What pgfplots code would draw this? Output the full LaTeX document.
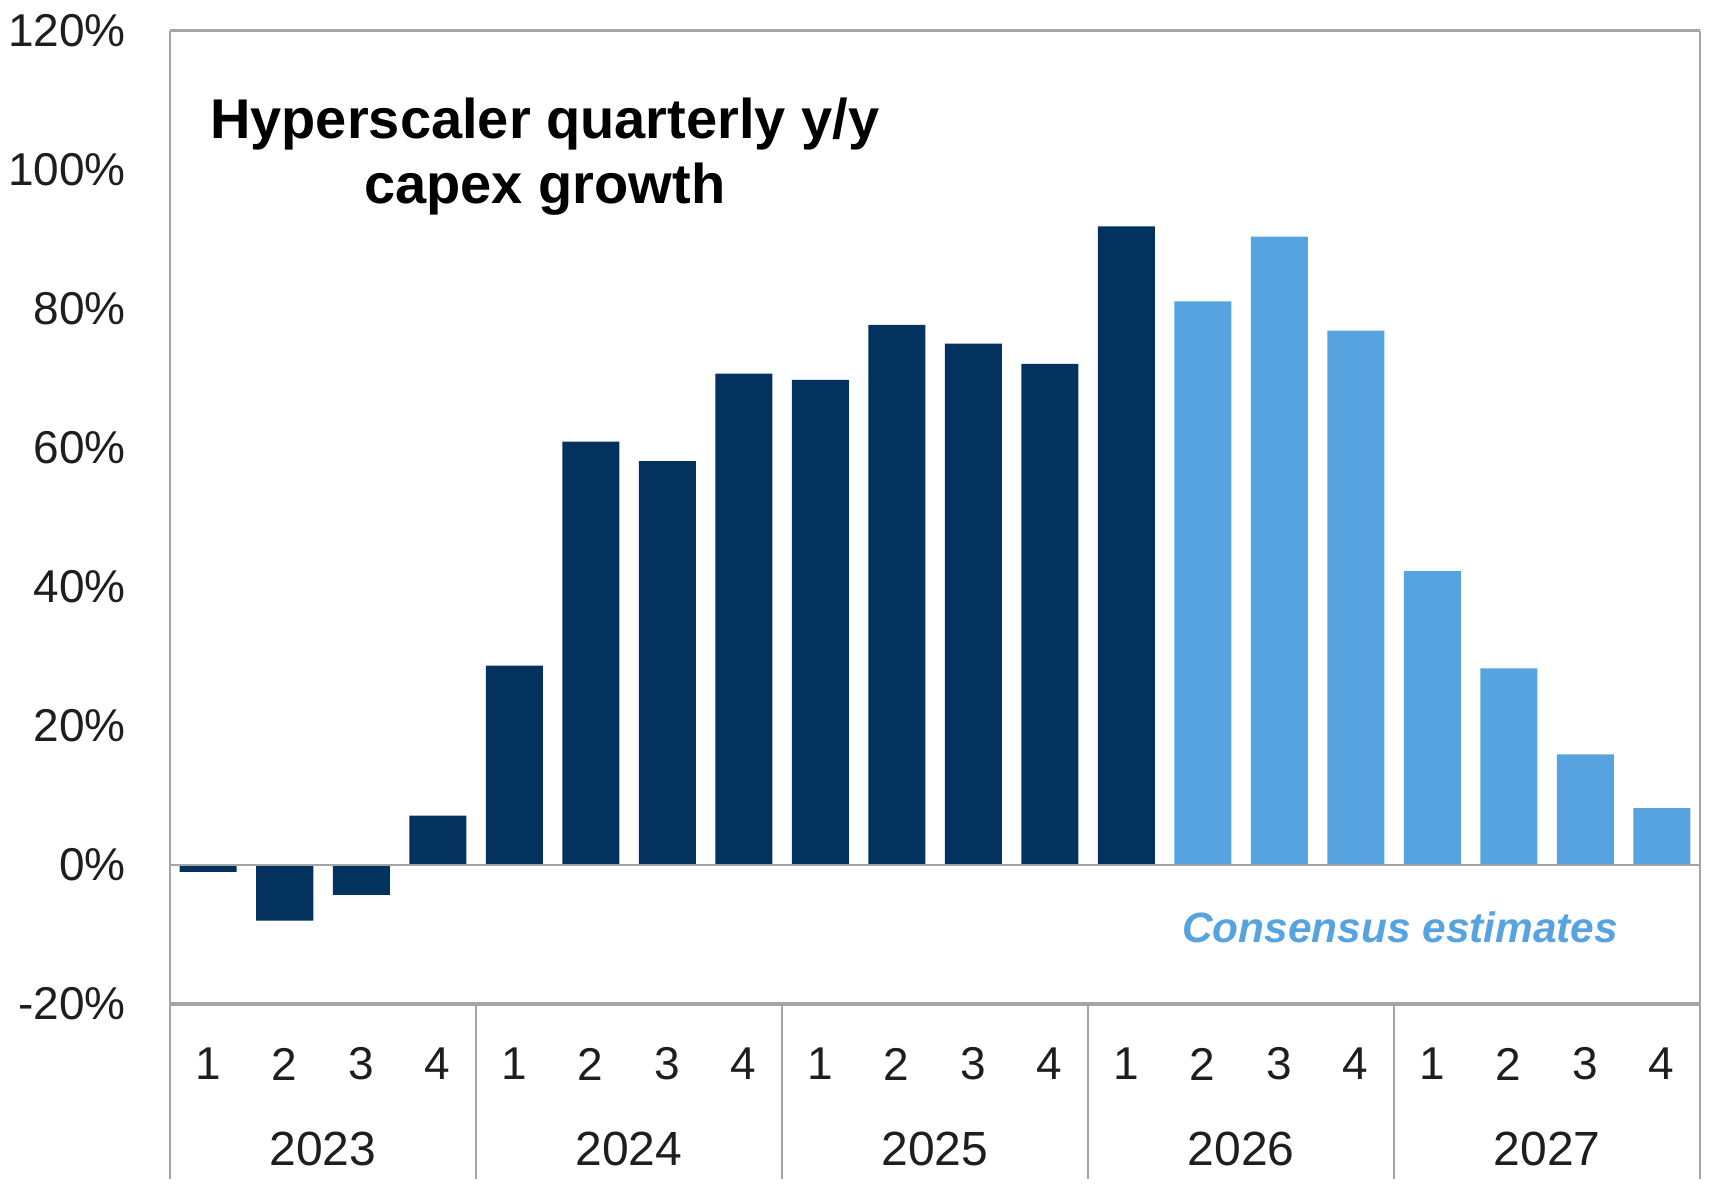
\documentclass[border=0pt]{standalone}
\usepackage{pgfplots}
\pgfplotsset{compat=1.18}
\usepackage{fontspec}
\setmainfont{Liberation Sans}
\definecolor{navy}{RGB}{3,50,94}
\definecolor{lblue}{RGB}{86,163,223}
\definecolor{frame}{RGB}{165,165,165}
\definecolor{txt}{RGB}{30,30,30}
\begin{document}
\begin{tikzpicture}
\begin{axis}[
  name=ax,
  scale only axis,
  width=382.5pt, height=243.25pt,
  xmin=-0.5, xmax=19.5, ymin=-20, ymax=120,
  axis line style={draw=none},
  major tick length=0pt,
  ytick={-20,0,20,40,60,80,100,120},
  yticklabel={\pgfmathprintnumber{\tick}\%},
  yticklabel style={font=\fontsize{11.5}{13}\selectfont, text=txt, xshift=-7.5pt},
  xtick={0,...,19},
  xticklabels={1,2,3,4,1,2,3,4,1,2,3,4,1,2,3,4,1,2,3,4},
  xticklabel style={font=\fontsize{11.5}{13}\selectfont, text=txt, anchor=center, yshift=-15pt},
  /pgf/number format/assume math mode=true,
  clip=false,
]
% frame lines
\draw[frame, line width=0.75pt] (axis cs:-0.5,120) -- (axis cs:19.5,120);
\draw[frame, line width=0.5pt] (axis cs:-0.5,120) -- (axis cs:-0.5,-20) -- ++(0pt,-43.75pt);
\draw[frame, line width=0.5pt] (axis cs:19.5,120) -- (axis cs:19.5,-20) -- ++(0pt,-43.75pt);
\pgfplotsinvokeforeach{3.5,7.5,11.5,15.5}{
  \draw[frame, line width=0.4pt] (axis cs:#1,-20) -- ++(0pt,-43.75pt);
}
% bars
\addplot[ybar, bar width=14.25pt, bar shift=0pt, fill=navy, draw=none] coordinates {
 (0,-1) (1,-8) (2,-4.3) (3,7.1) (4,28.7) (5,60.9) (6,58.1) (7,70.7)
 (8,69.8) (9,77.7) (10,75.0) (11,72.1) (12,91.9)
};
\addplot[ybar, bar width=14.25pt, bar shift=0pt, fill=lblue, draw=none] coordinates {
 (13,81.1) (14,90.4) (15,76.9) (16,42.3) (17,28.3) (18,15.9) (19,8.2)
};
\draw[frame, line width=0.5pt] (axis cs:-0.5,0) -- (axis cs:19.5,0);
\draw[frame, line width=1pt] (axis cs:-0.5,-20) -- (axis cs:19.5,-20);
% year labels
\node[font=\fontsize{12}{14}\selectfont, text=txt] at ([yshift=-36.25pt]axis cs:1.5,-20) {2023};
\node[font=\fontsize{12}{14}\selectfont, text=txt] at ([yshift=-36.25pt]axis cs:5.5,-20) {2024};
\node[font=\fontsize{12}{14}\selectfont, text=txt] at ([yshift=-36.25pt]axis cs:9.5,-20) {2025};
\node[font=\fontsize{12}{14}\selectfont, text=txt] at ([yshift=-36.25pt]axis cs:13.5,-20) {2026};
\node[font=\fontsize{12}{14}\selectfont, text=txt] at ([yshift=-36.25pt]axis cs:17.5,-20) {2027};
\node[align=center, font=\bfseries\fontsize{14}{16.25}\selectfont, text=black] at (axis cs:4.4,101.9)
  {Hyperscaler quarterly y/y\\capex growth};
\node[font=\bfseries\itshape\fontsize{10.6}{12}\selectfont, text=lblue] at (axis cs:15.58,-8.9)
  {Consensus estimates};
\end{axis}
\pgfresetboundingbox
\path[use as bounding box] ([shift={(-42.5pt,-45.5pt)}]ax.south west) rectangle ([shift={(4.25pt,7.75pt)}]ax.north east);
\end{tikzpicture}
\end{document}
